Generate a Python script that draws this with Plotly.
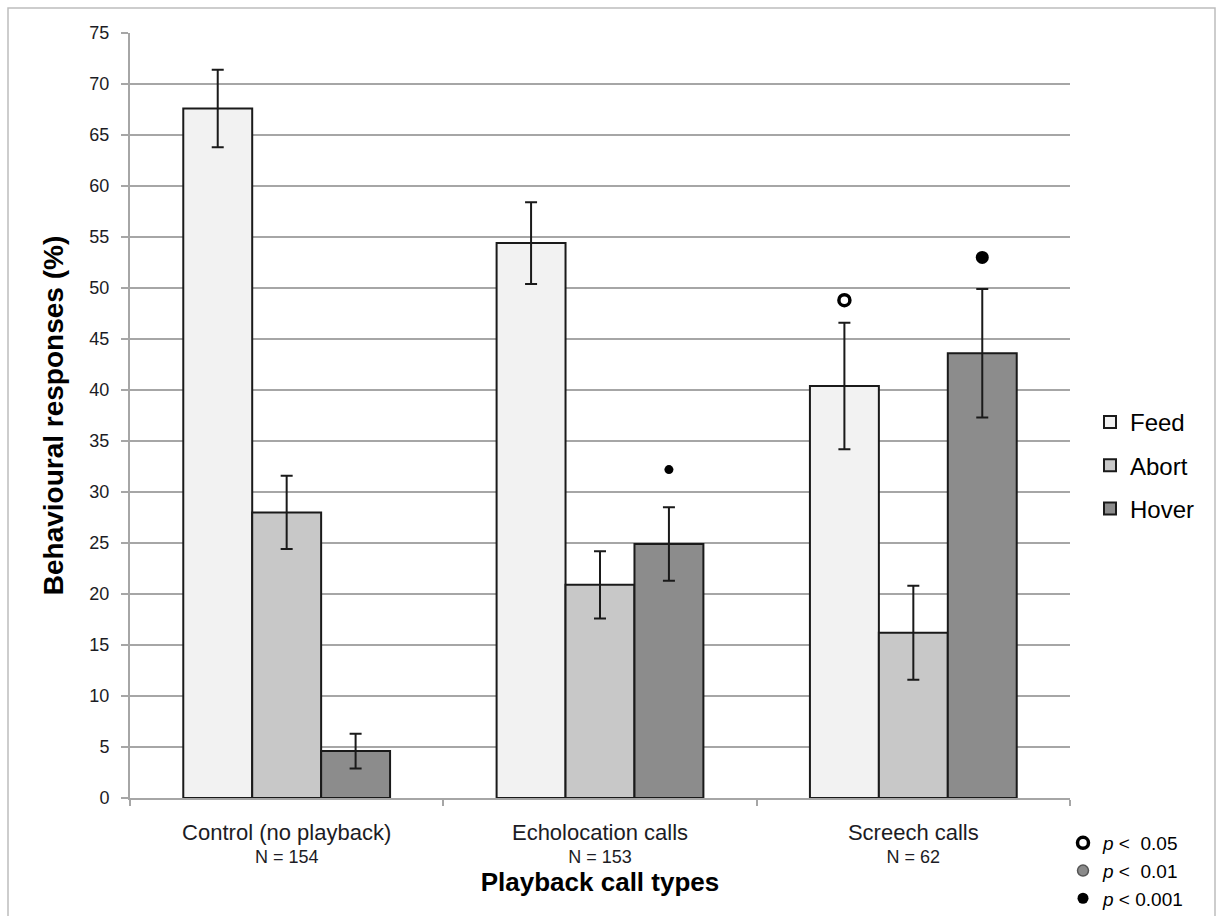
import plotly.graph_objects as go

# ---- data ----
categories = ["Control (no playback)", "Echolocation calls", "Screech calls"]
sample_sizes = ["N = 154", "N = 153", "N = 62"]
series_names = ["Feed", "Abort", "Hover"]
feed = [67.6, 54.4, 40.4]
abort = [28.0, 20.9, 16.2]
hover = [4.6, 24.9, 43.6]
feed_err = [3.8, 4.0, 6.2]
abort_err = [3.6, 3.3, 4.6]
hover_err = [1.7, 3.6, 6.3]

# significance markers (category, series, y position, level)
sig_category = ["Echolocation calls", "Screech calls", "Screech calls"]
sig_series = ["Hover", "Feed", "Hover"]
sig_y = [32.2, 48.8, 53.0]
sig_level = ["p < 0.001", "p < 0.05", "p < 0.001"]
sig_levels = ["p < 0.05", "p < 0.01", "p < 0.001"]
sig_labels = ["<i>p</i> <  0.05", "<i>p</i> <  0.01", "<i>p</i> < 0.001"]

# ---- styles ----
FONT = "Liberation Sans, Arial, sans-serif"
bar_colors = {"Feed": "#F2F2F2", "Abort": "#C8C8C8", "Hover": "#8C8C8C"}
sig_style = {
    "p < 0.05": dict(color="white", line=dict(color="black", width=3.5)),
    "p < 0.01": dict(color="#8A8A8A", line=dict(color="#555555", width=1.5)),
    "p < 0.001": dict(color="black", line=dict(color="black", width=0)),
}
sig_size = [9, 11, 13]
GRID = "#A6A6A6"
TXT = "#1C1C24"

bargap = 0.34
bar_w = (1 - bargap) / 3

fig = go.Figure()

values = {"Feed": feed, "Abort": abort, "Hover": hover}
errs = {"Feed": feed_err, "Abort": abort_err, "Hover": hover_err}
tick_text = [
    f"<span style='font-size:22px'>{c}</span><br>{n}" for c, n in zip(categories, sample_sizes)
]

for name in series_names:
    fig.add_trace(go.Bar(
        name=name, x=categories, y=values[name],
        marker=dict(color=bar_colors[name], line=dict(color="#1A1A1A", width=2)),
        error_y=dict(type="data", array=errs[name], color="#1A1A1A", thickness=2, width=6),
        legendgroup=name, legend="legend",
    ))

# significance markers on an overlaid numeric axis aligned with the category slots
for i, (cat, ser, yv, lvl) in enumerate(zip(sig_category, sig_series, sig_y, sig_level)):
    xi = categories.index(cat) + (series_names.index(ser) - 1) * bar_w
    st = sig_style[lvl]
    fig.add_trace(go.Scatter(
        x=[xi], y=[yv], xaxis="x2", yaxis="y", mode="markers",
        marker=dict(symbol="circle", size=sig_size[i], color=st["color"], line=st["line"]),
        showlegend=False, hoverinfo="skip",
    ))

# significance key
for lvl, lab in zip(sig_levels, sig_labels):
    st = sig_style[lvl]
    fig.add_trace(go.Scatter(
        x=[None], y=[None], xaxis="x2", mode="markers", name=lab,
        marker=dict(symbol="circle", size=11, color=st["color"], line=st["line"]),
        legend="legend2", legendgroup=lvl,
    ))

W, H = 1217, 916
L, R, T, B = 130, 147, 33, 118
pw, ph = W - L - R, H - T - B

fig.update_layout(
    width=W, height=H,
    margin=dict(l=L, r=R, t=T, b=B, autoexpand=False),
    paper_bgcolor="white", plot_bgcolor="white",
    font=dict(family=FONT, color=TXT),
    barmode="group", bargap=bargap, bargroupgap=0,
    xaxis=dict(
        range=[-0.5, 2.5], tickmode="array", tickvals=categories, ticktext=tick_text,
        tickfont=dict(size=18, color=TXT), ticks="outside", tickson="boundaries",
        ticklen=6, tickcolor=GRID, tickwidth=1.5, showline=True, linecolor=GRID, linewidth=2,
        showgrid=False, ticklabelstandoff=18, automargin=False,
        title=dict(text="Playback call types", font=dict(size=26, weight="bold", color="black"),
                   standoff=0),
    ),
    xaxis2=dict(overlaying="x", range=[-0.5, 2.5], visible=False),
    yaxis=dict(
        range=[0, 75], dtick=5, tickfont=dict(size=18, color=TXT),
        ticks="outside", ticklen=7, tickcolor=GRID, tickwidth=1.5,
        showline=True, linecolor=GRID, linewidth=2, automargin=False,
        showgrid=True, gridcolor=GRID, gridwidth=2, zeroline=False, ticklabelstandoff=8,
        title=dict(text="Behavioural responses (%)", font=dict(size=28, weight="bold", color="black"),
                   standoff=18),
    ),
    legend=dict(
        x=(1090 - L) / pw, y=(H - B - 400) / ph, xanchor="left", yanchor="top",
        font=dict(size=24, color="black"), traceorder="grouped", tracegroupgap=9,
        bgcolor="rgba(0,0,0,0)",
    ),
    legend2=dict(
        x=(1063 - L) / pw, y=(H - B - 824) / ph, xanchor="left", yanchor="top",
        font=dict(size=19, color="black"), traceorder="grouped", tracegroupgap=0,
        bgcolor="rgba(0,0,0,0)",
    ),
    shapes=[dict(
        type="rect", xref="paper", yref="paper",
        x0=(8 - L) / pw, x1=(1215 - L) / pw, y0=(H - B - 1000) / ph, y1=(H - B - 8) / ph,
        line=dict(color="#BDBDBD", width=1.5), fillcolor="rgba(0,0,0,0)", layer="below",
    )],
)

fig.write_html(
    "out.html",
    config={"displayModeBar": False},
    post_script="document.body.style.margin='0';document.body.style.overflow='hidden';",
)
